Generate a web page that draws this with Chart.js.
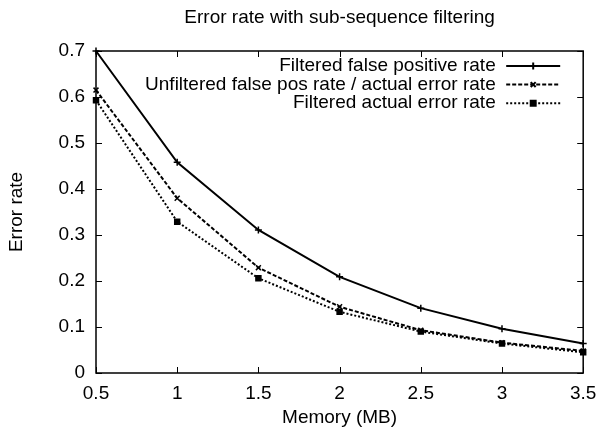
<!DOCTYPE html>
<html><head><meta charset="utf-8">
<script src="https://cdn.jsdelivr.net/npm/chart.js@4"></script>
<style>html,body{margin:0;padding:0;background:#fff}#wrap{width:606px;height:429px}</style>
</head><body><div id="wrap"><canvas id="c" width="606" height="429"></canvas></div>
<script>
const titleText = 'Error rate with sub-sequence filtering';
const xTitle = 'Memory (MB)';
const yTitle = 'Error rate';
const memory = [0.5, 1, 1.5, 2, 2.5, 3, 3.5];
const seriesNames = ['Filtered false positive rate', 'Unfiltered false pos rate / actual error rate', 'Filtered actual error rate'];
const filteredFP = [0.700, 0.458, 0.311, 0.209, 0.141, 0.096, 0.064];
const unfiltered = [0.615, 0.380, 0.229, 0.144, 0.093, 0.066, 0.048];
const filteredActual = [0.593, 0.329, 0.206, 0.133, 0.090, 0.064, 0.045];
const xTickLabels = ['0.5', '1', '1.5', '2', '2.5', '3', '3.5'];
const yTickLabels = ['0', '0.1', '0.2', '0.3', '0.4', '0.5', '0.6', '0.7'];

const FONT = 'Liberation Sans, Arial, Helvetica, sans-serif';
const FS = 19;

function pts(vals) { return memory.map((m, i) => ({ x: m, y: vals[i] })); }

const styles = [
  { borderDash: [], pointStyle: 'cross', pointRadius: 3.5 },
  { borderDash: [4, 2], pointStyle: 'crossRot', pointRadius: 3.5 },
  { borderDash: [2, 2], pointStyle: 'rect', pointRadius: 3.5 }
];
const seriesValues = [filteredFP, unfiltered, filteredActual];

const datasets = seriesValues.map((v, i) => ({
  label: seriesNames[i],
  data: pts(v),
  borderColor: '#000',
  backgroundColor: '#000',
  borderWidth: 2,
  borderDash: styles[i].borderDash,
  pointStyle: styles[i].pointStyle,
  pointRadius: styles[i].pointRadius,
  pointBorderWidth: 1.5,
  pointBorderColor: '#000',
  pointBackgroundColor: '#000',
  tension: 0,
  clip: false
}));

const framePlugin = {
  id: 'frame',
  afterDraw(chart) {
    const ctx = chart.ctx, a = chart.chartArea;
    const xs = chart.scales.x, ys = chart.scales.y;
    ctx.save();
    // title centred over the plot area (gnuplot style)
    ctx.font = FS + 'px ' + FONT;
    ctx.fillStyle = '#000';
    ctx.textAlign = 'center';
    ctx.textBaseline = 'middle';
    ctx.fillText(titleText, (a.left + a.right) / 2, 18);

    ctx.strokeStyle = '#000';
    ctx.lineWidth = 1.5;
    ctx.setLineDash([]);
    ctx.strokeRect(a.left, a.top, a.right - a.left, a.bottom - a.top);
    const TL = 6;
    ctx.lineWidth = 1;
    ctx.beginPath();
    xs.ticks.forEach(t => {
      const px = Math.round(xs.getPixelForValue(t.value)) + 0.5;
      ctx.moveTo(px, a.bottom); ctx.lineTo(px, a.bottom - TL);
      ctx.moveTo(px, a.top); ctx.lineTo(px, a.top + TL);
    });
    ys.ticks.forEach(t => {
      const py = Math.round(ys.getPixelForValue(t.value)) + 0.5;
      ctx.moveTo(a.left, py); ctx.lineTo(a.left + TL, py);
      ctx.moveTo(a.right, py); ctx.lineTo(a.right - TL, py);
    });
    ctx.stroke();

    // legend (gnuplot style: right-aligned text, then sample)
    ctx.textAlign = 'right';
    const textRight = a.right - 87.5;
    const x0 = a.right - 77, x1 = a.right - 23;
    chart.data.datasets.forEach((ds, i) => {
      const y = a.top + 15 + i * 18.6;
      ctx.fillText(ds.label, textRight, y);
      ctx.beginPath();
      ctx.lineWidth = ds.borderWidth;
      ctx.setLineDash(ds.borderDash);
      ctx.moveTo(x0, y); ctx.lineTo(x1, y);
      ctx.stroke();
      ctx.setLineDash([]);
      Chart.helpers.drawPoint(ctx, {
        pointStyle: ds.pointStyle, radius: ds.pointRadius, borderWidth: ds.pointBorderWidth, rotation: 0
      }, (x0 + x1) / 2, y);
    });
    ctx.restore();
  }
};

new Chart(document.getElementById('c'), {
  type: 'line',
  data: { datasets },
  options: {
    responsive: false,
    animation: false,
    devicePixelRatio: 1,
    layout: { padding: { left: 0, right: 16, top: 51, bottom: 0 } },
    plugins: {
      legend: { display: false },
      tooltip: { enabled: false },
      title: { display: false }
    },
    scales: {
      x: {
        type: 'linear', min: 0.5, max: 3.5,
        grid: { display: false, drawTicks: false },
        border: { display: false },
        ticks: {
          stepSize: 0.5, color: '#000', padding: 9.6, maxRotation: 0,
          font: { family: FONT, size: FS },
          callback: (v, i) => xTickLabels[i]
        },
        title: { display: true, text: xTitle, color: '#000', font: { family: FONT, size: FS }, padding: { top: 0, bottom: 0 } },
        afterFit: s => { s.height = 56; }
      },
      y: {
        type: 'linear', min: 0, max: 0.7,
        grid: { display: false, drawTicks: false },
        border: { display: false },
        ticks: {
          stepSize: 0.1, color: '#000', padding: 11,
          font: { family: FONT, size: FS },
          callback: (v, i) => yTickLabels[i]
        },
        title: { display: true, text: yTitle, color: '#000', font: { family: FONT, size: FS }, padding: { top: 5.6, bottom: 0 } },
        afterFit: s => { s.width = 96; }
      }
    }
  },
  plugins: [framePlugin]
});
</script></body></html>
